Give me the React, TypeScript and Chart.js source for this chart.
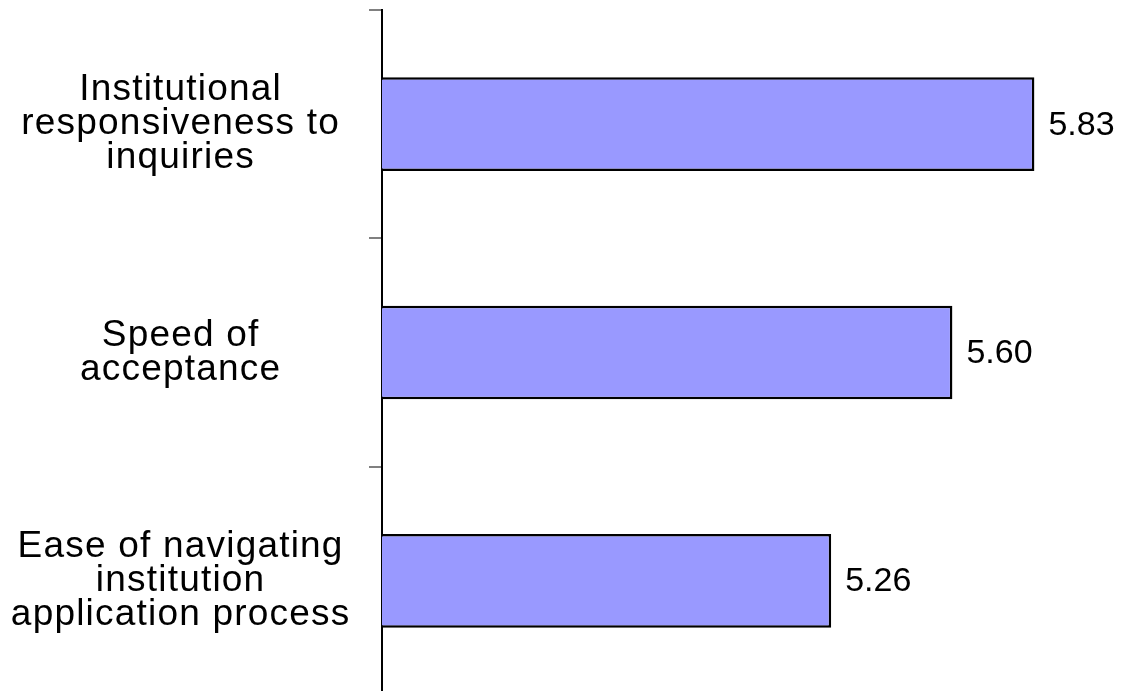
import React, { useEffect, useRef } from "react";
import { Chart, registerables } from "chart.js";

Chart.register(...registerables);

const categories: string[][] = [
  ["Institutional", "responsiveness to", "inquiries"],
  ["Speed of", "acceptance"],
  ["Ease of navigating", "institution", "application process"],
];
const values: number[] = [5.83, 5.6, 5.26];
const valueLabels: string[] = ["5.83", "5.60", "5.26"];
const xMin = 4;
const xMax = 6;

const FONT = "'Liberation Sans', Arial, sans-serif";

const letterSpacingPlugin = {
  id: "letterSpacing",
  beforeDraw(chart: any) {
    (chart.ctx as any).letterSpacing = "1.2px";
  },
  afterDatasetsDraw(chart: any) {
    const ctx = chart.ctx;
    (ctx as any).letterSpacing = "0px";
    const meta = chart.getDatasetMeta(0);
    ctx.save();
    ctx.font = `34px ${FONT}`;
    ctx.fillStyle = "#000000";
    ctx.textAlign = "left";
    ctx.textBaseline = "middle";
    meta.data.forEach((bar: any, i: number) => {
      ctx.fillText(valueLabels[i], bar.x + 14, bar.y + 1);
    });
    ctx.restore();
  },
};

export default function App() {
  const ref = useRef<HTMLCanvasElement>(null);
  useEffect(() => {
    if (!ref.current) return;
    const chart = new Chart(ref.current, {
      type: "bar",
      data: {
        labels: categories,
        datasets: [
          {
            data: values,
            backgroundColor: "#9999FF",
            borderColor: "#000000",
            borderWidth: 2.5,
            borderSkipped: false,
            categoryPercentage: 1,
            barPercentage: 0.41,
          },
        ],
      },
      options: {
        indexAxis: "y",
        animation: false,
        responsive: false,
        maintainAspectRatio: false,
        devicePixelRatio: 1,
        layout: { padding: { top: 10, bottom: 1, right: 27, left: 0 } },
        plugins: { legend: { display: false }, tooltip: { enabled: false } },
        scales: {
          x: { display: false, min: xMin, max: xMax },
          y: {
            afterFit: (scale: any) => {
              scale.width = 382;
              scale.paddingTop = 0;
              scale.paddingBottom = 0;
            },
            border: { display: true, color: "#000000", width: 2 },
            grid: {
              offset: true,
              drawOnChartArea: false,
              drawTicks: true,
              tickLength: 13,
              color: "#808080",
              lineWidth: 2,
            },
            ticks: {
              crossAlign: "center",
              padding: 30,
              color: "#000000",
              font: { family: FONT, size: 37, lineHeight: 0.92 },
            },
          },
        },
      },
      plugins: [letterSpacingPlugin],
    });
    return () => chart.destroy();
  }, []);
  return (
    <div style={{ position: "fixed", left: 0, top: 0, width: 1122, height: 696, background: "#fff" }}>
      <canvas ref={ref} width={1122} height={696} style={{ display: "block", width: 1122, height: 696 }} />
    </div>
  );
}
